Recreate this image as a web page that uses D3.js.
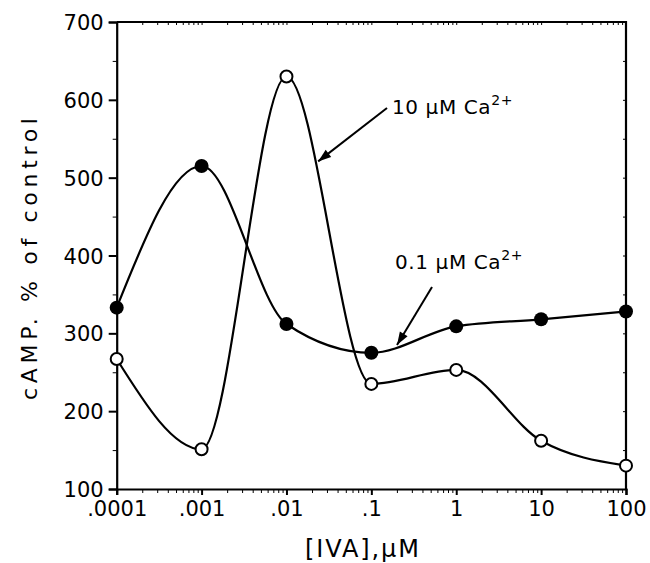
<!DOCTYPE html>
<html>
<head>
<meta charset="utf-8">
<script src="https://cdn.jsdelivr.net/npm/d3@7"></script>
<style>
  body { margin: 0; background: #fff; }
  svg { display: block; }
  text { font-family: "DejaVu Sans", sans-serif; fill: #000; }
</style>
</head>
<body>
<script>
// концентрации IVA, мкМ
const doses = [0.0001, 0.001, 0.01, 0.1, 1, 10, 100];
const doseLabels = ['.0001', '.001', '.01', '.1', '1', '10', '100'];
// cAMP, % от контроля
const lowCa = [333, 515, 312, 275, 309, 318, 328];   // 0.1 µM Ca2+ (закрашенные)
const highCa = [267, 151, 630, 235, 253, 162, 130];  // 10 µM Ca2+ (пустые)
const yTicks = [100, 200, 300, 400, 500, 600, 700];

const width = 650, height = 563;
const pLeft = 116.7, pRight = 626, pTop = 22, pBottom = 489;

const svg = d3.select('body').append('svg')
   .attr('width', width)
   .attr('height', height);

const x = d3.scaleLog().domain([0.0001, 100]).range([pLeft, pRight]);
const y = d3.scaleLinear().domain([100, 700]).range([pBottom, pTop]);

// рамка сверху и справа
svg.append('path')
   .attr('d', `M${pLeft},${pTop}H${pRight}V${pBottom}`)
   .attr('fill', 'none').attr('stroke', '#000').attr('stroke-width', 2.2);

// малые деления по оси x
const minor = [];
doses.slice(0, -1).forEach(d => { for (let k = 2; k <= 9; k++) minor.push(d * k); });

// ось y
const yAxis = svg.append('g')
   .attr('transform', `translate(${pLeft},0)`)
   .call(d3.axisLeft(y).tickValues(yTicks).tickSize(8).tickPadding(5).tickFormat(d3.format('d')));
yAxis.select('.domain').attr('stroke-width', 2.2);
yAxis.selectAll('.tick line').attr('stroke-width', 2);
yAxis.selectAll('text').attr('font-size', 21).attr('dy', '0.36em');
svg.append('g').attr('transform', `translate(${pLeft},0)`)
   .call(d3.axisLeft(y).tickValues(d3.range(150, 700, 100)).tickSize(4).tickFormat(''))
   .select('.domain').remove();
svg.append('g').attr('transform', `translate(${pRight},0)`)
   .call(d3.axisLeft(y).tickValues(d3.range(150, 701, 50)).tickSize(3).tickFormat(''))
   .select('.domain').remove();

// ось x
const xAxis = svg.append('g')
   .attr('transform', `translate(0,${pBottom})`)
   .call(d3.axisBottom(x).tickValues(doses).tickSize(6).tickPadding(6)
      .tickFormat((d, i) => doseLabels[i]));
xAxis.select('.domain').attr('stroke-width', 2.2);
xAxis.selectAll('.tick line').attr('stroke-width', 2);
xAxis.selectAll('text').attr('font-size', 21);
svg.append('g').attr('transform', `translate(0,${pBottom})`)
   .call(d3.axisBottom(x).tickValues(minor).tickSize(4).tickFormat(''))
   .select('.domain').remove();
svg.append('g').attr('transform', `translate(0,${pTop})`)
   .call(d3.axisBottom(x).tickValues(minor.concat(doses)).tickSize(3).tickFormat(''))
   .select('.domain').remove();

// подписи осей
svg.append('text')
   .attr('transform', `translate(37,${(118 + 400) / 2}) rotate(-90)`)
   .attr('text-anchor', 'middle')
   .attr('font-size', 22)
   .attr('textLength', 282).attr('lengthAdjust', 'spacing')
   .text('cAMP. % of control');
svg.append('text')
   .attr('x', 362).attr('y', 557)
   .attr('text-anchor', 'middle')
   .attr('font-size', 24)
   .attr('textLength', 114).attr('lengthAdjust', 'spacing')
   .text('[IVA],\u00b5M');

// кривые
const line = d3.line()
   .x((d, i) => x(doses[i]))
   .y(d => y(d))
   .curve(d3.curveMonotoneX);

const paths = [lowCa, highCa].map(s => svg.append('path').datum(s)
   .attr('d', line)
   .attr('fill', 'none').attr('stroke', '#000').attr('stroke-width', 2.2));

svg.append('g').selectAll('circle').data(highCa).enter().append('circle')
   .attr('cx', (d, i) => x(doses[i])).attr('cy', d => y(d))
   .attr('r', 6).attr('fill', '#fff').attr('stroke', '#000').attr('stroke-width', 2);
svg.append('g').selectAll('circle').data(lowCa).enter().append('circle')
   .attr('cx', (d, i) => x(doses[i])).attr('cy', d => y(d))
   .attr('r', 7).attr('fill', '#000');

// первая точка пересечения луча с кривой
function hit(node, x1, y1, dx, dy) {
   const n = Math.hypot(dx, dy), ux = dx / n, uy = dy / n;
   const len = node.getTotalLength();
   let best = Infinity;
   for (let s = 0; s <= len; s += 0.5) {
      const p = node.getPointAtLength(s);
      const t = (p.x - x1) * ux + (p.y - y1) * uy;
      const d = Math.abs((p.x - x1) * uy - (p.y - y1) * ux);
      if (t > 0 && d < 1.2 && t < best) best = t;
   }
   return best;
}

// аннотации со стрелками
function label(tx, ty, txt, x1, y1, dx, dy, node, gap) {
   const t = svg.append('text').attr('x', tx).attr('y', ty)
      .attr('font-size', 20).attr('letter-spacing', 0.6);
   t.append('tspan').text(txt + ' \u00b5M Ca');
   t.append('tspan').attr('dy', -9).attr('font-size', 14).text('2+');
   const a = Math.atan2(dy, dx);
   const len = hit(node, x1, y1, dx, dy) - gap;
   const x2 = x1 + len * Math.cos(a), y2 = y1 + len * Math.sin(a);
   svg.append('line')
      .attr('x1', x1).attr('y1', y1).attr('x2', x2).attr('y2', y2)
      .attr('stroke', '#000').attr('stroke-width', 2);
   const L = 13, W = 4.5;
   const bx = x2 - L * Math.cos(a), by = y2 - L * Math.sin(a);
   svg.append('path')
      .attr('d', `M${x2},${y2}L${bx + W * Math.sin(a)},${by - W * Math.cos(a)}L${bx - W * Math.sin(a)},${by + W * Math.cos(a)}Z`)
      .attr('fill', '#000');
}
label(392, 114, '10', 387, 108, -49, 38, paths[1].node(), 2);
label(395, 269, '0.1', 432, 287, -32, 53, paths[0].node(), 3);
</script>
</body>
</html>
